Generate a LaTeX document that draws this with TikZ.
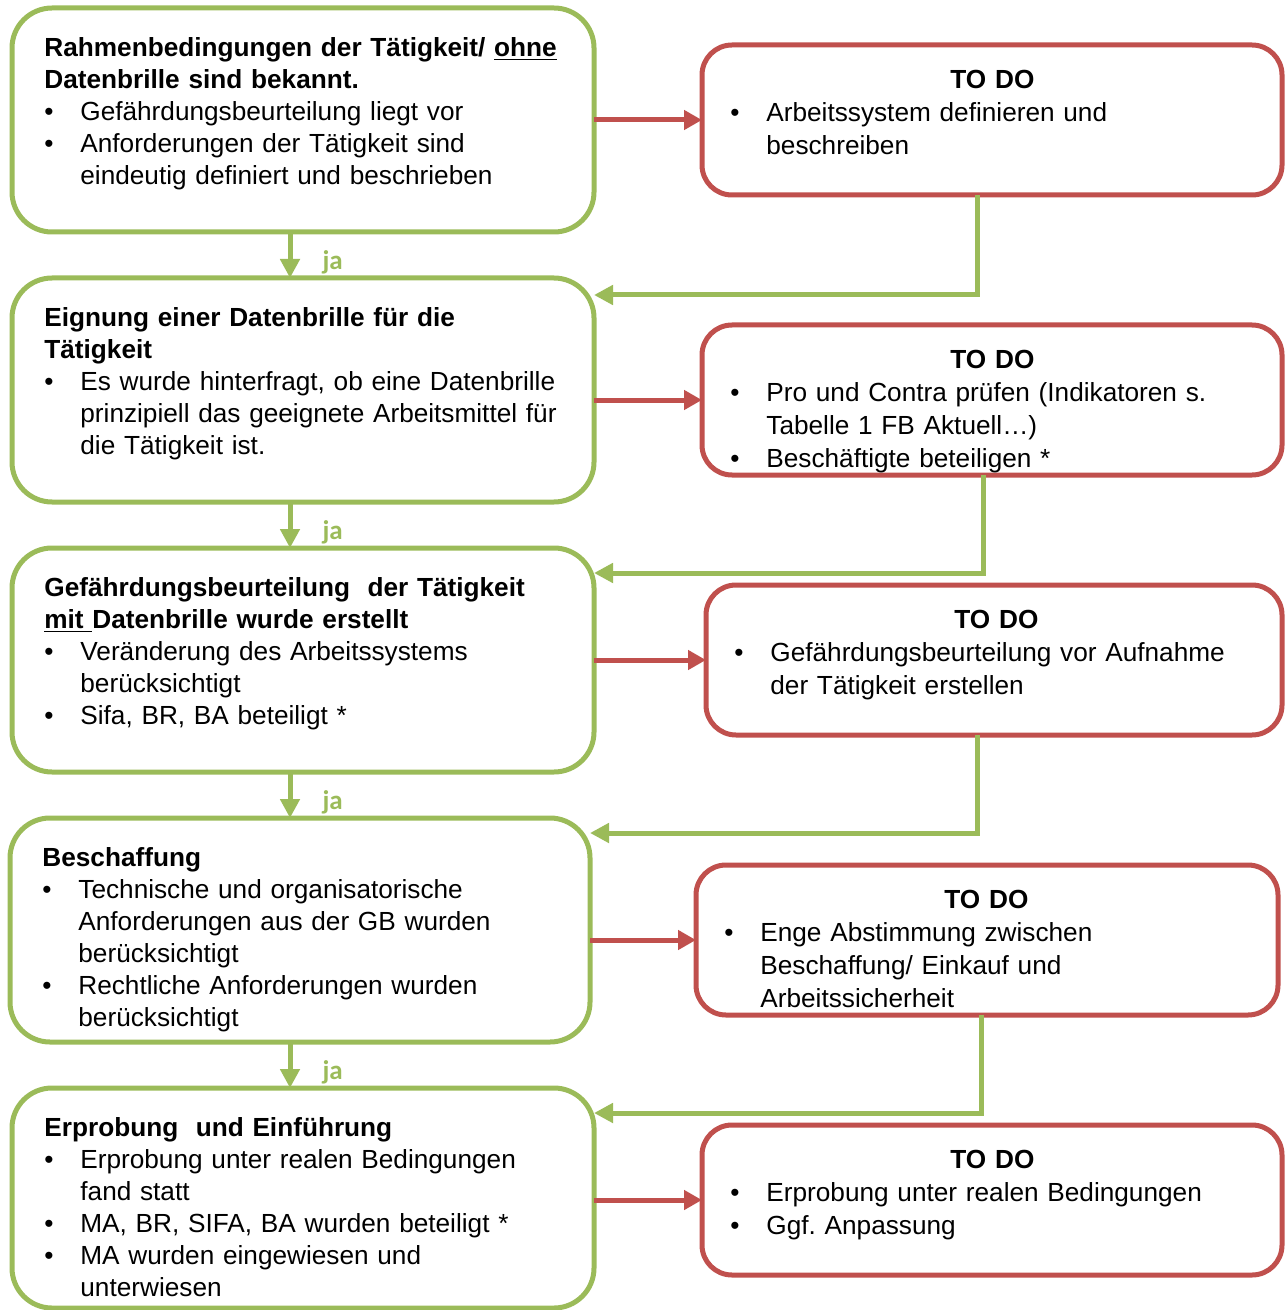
\documentclass[tikz,border=0pt]{standalone}
\usepackage{fontspec}
\setmainfont{Liberation Sans}
\newfontfamily\jafont{Carlito}
\usetikzlibrary{arrows.meta}
\definecolor{boxgreen}{HTML}{9BBB59}
\definecolor{boxred}{HTML}{C0504D}
\frenchspacing
\newcommand{\bul}[1]{\par\noindent\hangindent=18pt\hangafter=1\makebox[18pt][l]{\textbullet}#1\par}
\begin{document}
\begin{tikzpicture}
	[x=0.5pt,y=-0.5pt,
	gbox/.style={draw=boxgreen, line width=2.5pt, rounded corners=20pt, minimum width=291pt, minimum height=112pt, inner sep=0pt, outer sep=0pt},
	rbox/.style={draw=boxred, line width=2.5pt, rounded corners=15pt, minimum width=290pt, minimum height=75pt, inner sep=0pt, outer sep=0pt},
	txt/.style={anchor=north west, inner sep=0pt, text width=285pt, align=left, font=\fontsize{13.1pt}{16pt}\selectfont},
	todo/.style={anchor=north west, inner sep=0pt, text width=262pt, align=left, font=\fontsize{13.1pt}{16.5pt}\selectfont},
	garrow/.style={draw=boxgreen, line width=2.5pt, -{Triangle[length=9.5pt,width=9.5pt]}},
	rarrow/.style={draw=boxred, line width=2.5pt, -{Triangle[length=9pt,width=9.5pt]}},
	jatext/.style={anchor=west, inner sep=0pt, xshift=15pt, yshift=-3.5pt, text=boxgreen, font=\jafont\bfseries\fontsize{13.5pt}{15pt}\selectfont}]
	\useasboundingbox (0,0) rectangle (1284,1310);
	
	% left column
	\node[gbox] (g1) at (303,120) {};
	\node[gbox] (g2) at (303,390) {};
	\node[gbox] (g3) at (303,660) {};
	\node[gbox, minimum width=290pt] (g4) at (300,930) {};
	\node[gbox, minimum height=110pt] (g5) at (303,1198) {};
	
	% right column
	\node[rbox] (r1) at (992,120) {};
	\node[rbox] (r2) at (992,400) {};
	\node[rbox, minimum width=288pt] (r3) at (994,660) {};
	\node[rbox, minimum width=291pt] (r4) at (987,940) {};
	\node[rbox] (r5) at (992,1200) {};
	
	\node[txt] (g1t) at ([shift={(32,25.6)}]g1.north west) {{\bfseries\strut Rahmenbedingungen der Tätigkeit/ \underline{ohne}\newline Datenbrille sind bekannt.}
		\bul{Gefährdungsbeurteilung liegt vor}
		\bul{Anforderungen der Tätigkeit sind\newline eindeutig definiert und beschrieben}};
	\node[txt] (g2t) at ([shift={(32,25.6)}]g2.north west) {{\bfseries\strut Eignung einer Datenbrille für die\newline Tätigkeit}
		\bul{Es wurde hinterfragt, ob eine Datenbrille\newline prinzipiell das geeignete Arbeitsmittel für\newline die Tätigkeit ist.}};
	\node[txt] (g3t) at ([shift={(32,25.6)}]g3.north west) {{\bfseries\strut Gefährdungsbeurteilung\ \ der Tätigkeit\newline \underline{mit\ }Datenbrille wurde erstellt}
		\bul{Veränderung des Arbeitssystems\newline berücksichtigt}
		\bul{Sifa, BR, BA beteiligt *}};
	\node[txt] (g4t) at ([shift={(32,25.6)}]g4.north west) {{\bfseries\strut Beschaffung}
		\bul{Technische und organisatorische\newline Anforderungen aus der GB wurden\newline berücksichtigt}
		\bul{Rechtliche Anforderungen wurden\newline berücksichtigt}};
	\node[txt] (g5t) at ([shift={(32,25.6)}]g5.north west) {{\bfseries\strut Erprobung\ \ und Einführung}
		\bul{Erprobung unter realen Bedingungen\newline fand statt}
		\bul{MA, BR, SIFA, BA wurden beteiligt *}
		\bul{MA wurden eingewiesen und\newline unterwiesen}};
	
	\node[todo] (r1t) at ([shift={(28,19.6)}]r1.north west) {{\centering\bfseries\strut TO DO\par}
		\bul{Arbeitssystem definieren und\newline beschreiben}};
	\node[todo] (r2t) at ([shift={(28,19.6)}]r2.north west) {{\centering\bfseries\strut TO DO\par}
		\bul{Pro und Contra prüfen (Indikatoren s.\newline Tabelle 1 FB Aktuell…)}
		\bul{Beschäftigte beteiligen *}};
	\node[todo] (r3t) at ([shift={(28,19.6)}]r3.north west) {{\centering\bfseries\strut TO DO\par}
		\bul{Gefährdungsbeurteilung vor Aufnahme\newline der Tätigkeit erstellen}};
	\node[todo] (r4t) at ([shift={(28,19.6)}]r4.north west) {{\centering\bfseries\strut TO DO\par}
		\bul{Enge Abstimmung zwischen\newline Beschaffung/ Einkauf und\newline Arbeitssicherheit}};
	\node[todo] (r5t) at ([shift={(28,19.6)}]r5.north west) {{\centering\bfseries\strut TO DO\par}
		\bul{Erprobung unter realen Bedingungen}
		\bul{Ggf. Anpassung}};
	
	% arrows
	\coordinate (ax) at (290,0);
	\coordinate (t1) at (977,295);
	\coordinate (t2) at (983,573);
	\coordinate (t3) at (977,833);
	\coordinate (t4) at (981,1113);
	
	\foreach \a/\b in {g1/g2,g2/g3,g3/g4,g4/g5}
	\draw[garrow] (\a.south -| ax) -- node[jatext] {ja} (\b.north -| ax);
	
	\foreach \n in {1,...,5}
	\draw[rarrow] (r\n.west -| g\n.east) -- (r\n.west);
	
	\foreach \i/\j in {1/2,2/3,3/4,4/5}
	\draw[garrow] (r\i.south -| t\i) |- (g\j.east |- t\i);
\end{tikzpicture}
\end{document}
